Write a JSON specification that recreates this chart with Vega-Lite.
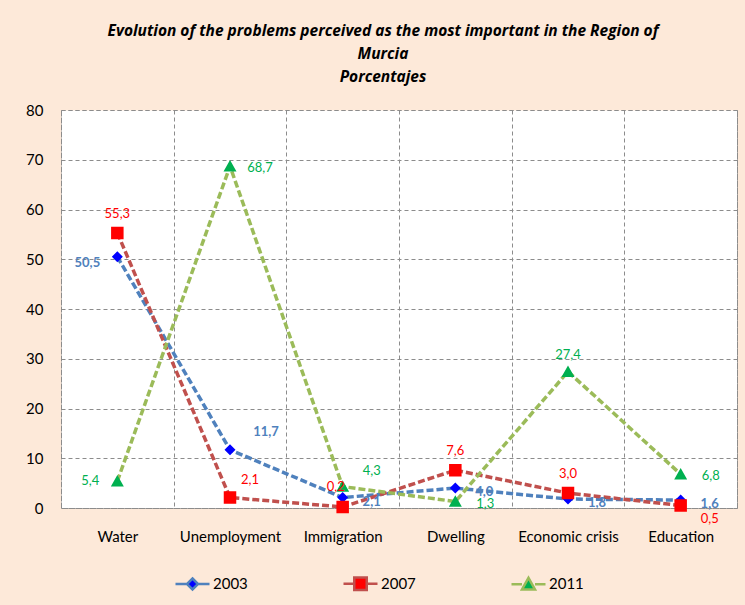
{
  "$schema": "https://vega.github.io/schema/vega-lite/v6.json",
  "width": 676,
  "height": 398,
  "autosize": {"type": "none"},
  "padding": {"left": 61, "top": 110, "right": 8, "bottom": 97},
  "background": "#FDE9D9",
  "config": {
    "font": "Lato",
    "view": {"fill": "white", "stroke": "#8c8c8c", "strokeDash": [4, 3], "strokeWidth": 1},
    "locale": {"number": {"decimal": ",", "thousands": ".", "grouping": [3], "currency": ["", " €"]}}
  },
  "title": {
    "text": ["Evolution of the problems perceived as the most important  in the Region  of", "Murcia", "Porcentajes"],
    "font": "Open Sans",
    "fontSize": 15.5,
    "fontWeight": "bold",
    "fontStyle": "italic",
    "lineHeight": 23,
    "anchor": "middle",
    "frame": "group",
    "dx": -16,
    "offset": 18,
    "color": "black"
  },
  "data": {
    "values": [
      {"category": "Water", "year": "2003", "value": 50.5},
      {"category": "Unemployment", "year": "2003", "value": 11.7},
      {"category": "Immigration", "year": "2003", "value": 2.1},
      {"category": "Dwelling", "year": "2003", "value": 4.0},
      {"category": "Economic crisis", "year": "2003", "value": 1.8},
      {"category": "Education", "year": "2003", "value": 1.6},
      {"category": "Water", "year": "2007", "value": 55.3},
      {"category": "Unemployment", "year": "2007", "value": 2.1},
      {"category": "Immigration", "year": "2007", "value": 0.2},
      {"category": "Dwelling", "year": "2007", "value": 7.6},
      {"category": "Economic crisis", "year": "2007", "value": 3.0},
      {"category": "Education", "year": "2007", "value": 0.5},
      {"category": "Water", "year": "2011", "value": 5.4},
      {"category": "Unemployment", "year": "2011", "value": 68.7},
      {"category": "Immigration", "year": "2011", "value": 4.3},
      {"category": "Dwelling", "year": "2011", "value": 1.3},
      {"category": "Economic crisis", "year": "2011", "value": 27.4},
      {"category": "Education", "year": "2011", "value": 6.8}
    ]
  },
  "encoding": {
    "x": {
      "field": "category",
      "type": "nominal",
      "sort": ["Water", "Unemployment", "Immigration", "Dwelling", "Economic crisis", "Education"],
      "scale": {"paddingInner": 0, "paddingOuter": 0},
      "axis": {
        "title": null,
        "labelAngle": 0,
        "labelFontSize": 15,
        "labelColor": "black",
        "labelPadding": 21,
        "ticks": false,
        "domain": false,
        "grid": true,
        "tickBand": "extent",
        "gridColor": "#8c8c8c",
        "gridDash": [4, 3],
        "gridWidth": 1,
        "labelFont": "Lato"
      }
    },
    "y": {
      "field": "value",
      "type": "quantitative",
      "scale": {"domain": [0, 80], "nice": false},
      "axis": {
        "title": null,
        "values": [0, 10, 20, 30, 40, 50, 60, 70, 80],
        "labelFontSize": 15,
        "labelColor": "black",
        "labelPadding": 18,
        "ticks": false,
        "domain": false,
        "gridColor": "#8c8c8c",
        "gridDash": [4, 3],
        "gridWidth": 1,
        "labelFont": "Lato"
      }
    }
  },
  "layer": [
    {
      "mark": {"type": "line", "strokeWidth": 3.5, "strokeDash": [7, 3]},
      "encoding": {
        "stroke": {
          "field": "year",
          "type": "nominal",
          "scale": {"domain": ["2003", "2007", "2011"], "range": ["#4F81BD", "#C0504D", "#9BBB59"]},
          "legend": {
            "title": null,
            "orient": "none",
            "direction": "horizontal",
            "legendX": 124,
            "legendY": 466,
            "columns": 3,
            "columnPadding": 90,
            "labelFontSize": 15,
            "labelColor": "black",
            "labelFont": "Lato",
            "symbolSize": 100,
            "symbolStrokeWidth": 2.5,
            "labelOffset": 13
          }
        }
      }
    },
    {
      "mark": {"type": "point", "filled": true, "size": 100, "opacity": 1},
      "encoding": {
        "fill": {
          "field": "year",
          "type": "nominal",
          "scale": {"domain": ["2003", "2007", "2011"], "range": ["#0000FF", "#FF0000", "#00B050"]}
        },
        "shape": {
          "field": "year",
          "type": "nominal",
          "scale": {
            "domain": ["2003", "2007", "2011"],
            "range": [
              "M-3.4,0H-1.1M1.1,0H3.4M0,-1.1L1.1,0L0,1.1L-1.1,0Z",
              "M-3.4,0H-1.25M1.25,0H3.4M-1.25,-1.25H1.25V1.25H-1.25Z",
              "M-3.4,0H-1.3M1.3,0H3.4M0,-1.25L1.3,1.05H-1.3Z"
            ]
          }
        }
      }
    },
    {
      "transform": [{"filter": "datum.year === '2003' && datum.category === 'Water'"}],
      "mark": {"type": "text", "fontSize": 13, "dx": -30, "dy": 6, "color": "#4F81BD", "font": "Lato", "fontWeight": "bold"},
      "encoding": {"text": {"field": "value", "type": "quantitative", "format": ".1f"}}
    },
    {
      "transform": [{"filter": "datum.year === '2003' && datum.category === 'Unemployment'"}],
      "mark": {"type": "text", "fontSize": 13, "dx": 36, "dy": -18, "color": "#4F81BD", "font": "Lato", "fontWeight": "bold"},
      "encoding": {"text": {"field": "value", "type": "quantitative", "format": ".1f"}}
    },
    {
      "transform": [{"filter": "datum.year === '2003' && datum.category !== 'Water' && datum.category !== 'Unemployment'"}],
      "mark": {"type": "text", "fontSize": 13, "dx": 29, "dy": 4, "color": "#4F81BD", "font": "Lato", "fontWeight": "bold"},
      "encoding": {"text": {"field": "value", "type": "quantitative", "format": ".1f"}}
    },
    {
      "transform": [{"filter": "datum.year === '2007' && datum.category === 'Unemployment'"}],
      "mark": {"type": "text", "fontSize": 13, "dx": 20, "dy": -18, "color": "#FF0000", "font": "Lato"},
      "encoding": {"text": {"field": "value", "type": "quantitative", "format": ".1f"}}
    },
    {
      "transform": [{"filter": "datum.year === '2007' && datum.category === 'Education'"}],
      "mark": {"type": "text", "fontSize": 13, "dx": 29, "dy": 13, "color": "#FF0000", "font": "Lato"},
      "encoding": {"text": {"field": "value", "type": "quantitative", "format": ".1f"}}
    },
    {
      "transform": [{"filter": "datum.year === '2007' && datum.category === 'Immigration'"}],
      "mark": {"type": "text", "fontSize": 13, "dx": -7, "dy": -20, "color": "#FF0000", "font": "Lato"},
      "encoding": {"text": {"field": "value", "type": "quantitative", "format": ".1f"}}
    },
    {
      "transform": [{"filter": "datum.year === '2007' && datum.category !== 'Unemployment' && datum.category !== 'Education' && datum.category !== 'Immigration'"}],
      "mark": {"type": "text", "fontSize": 13, "dx": 0, "dy": -19, "color": "#FF0000", "font": "Lato"},
      "encoding": {"text": {"field": "value", "type": "quantitative", "format": ".1f"}}
    },
    {
      "transform": [{"filter": "datum.year === '2011' && datum.category === 'Water'"}],
      "mark": {"type": "text", "fontSize": 13, "dx": -27, "dy": 0, "color": "#00B050", "font": "Lato"},
      "encoding": {"text": {"field": "value", "type": "quantitative", "format": ".1f"}}
    },
    {
      "transform": [{"filter": "datum.year === '2011' && datum.category === 'Economic crisis'"}],
      "mark": {"type": "text", "fontSize": 13, "dx": 0, "dy": -17, "color": "#00B050", "font": "Lato"},
      "encoding": {"text": {"field": "value", "type": "quantitative", "format": ".1f"}}
    },
    {
      "transform": [{"filter": "datum.year === '2011' && datum.category === 'Immigration'"}],
      "mark": {"type": "text", "fontSize": 13, "dx": 29, "dy": -16, "color": "#00B050", "font": "Lato"},
      "encoding": {"text": {"field": "value", "type": "quantitative", "format": ".1f"}}
    },
    {
      "transform": [{"filter": "datum.year === '2011' && datum.category !== 'Water' && datum.category !== 'Economic crisis' && datum.category !== 'Immigration'"}],
      "mark": {"type": "text", "fontSize": 13, "dx": 30, "dy": 2, "color": "#00B050", "font": "Lato"},
      "encoding": {"text": {"field": "value", "type": "quantitative", "format": ".1f"}}
    }
  ]
}
